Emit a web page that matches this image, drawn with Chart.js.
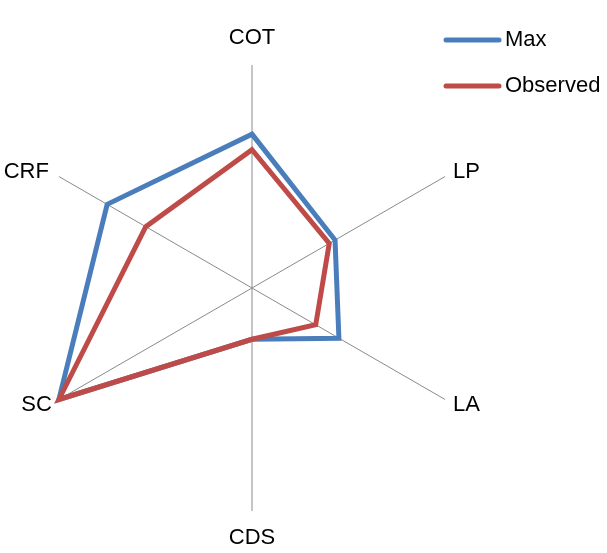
<!DOCTYPE html>
<html>
<head>
<meta charset="utf-8">
<script src="https://cdn.jsdelivr.net/npm/chart.js@4/dist/chart.umd.min.js"></script>
<style>
  html, body { margin: 0; padding: 0; background: #ffffff; }
  #wrap { width: 607px; height: 553px; position: relative; }
</style>
</head>
<body>
<div id="wrap"><canvas id="radar" width="607" height="553"></canvas></div>
<script>
// Axis categories, clockwise from the top
const categories = ['COT', 'LP', 'LA', 'CDS', 'SC', 'CRF'];
// Series values (scale 0 - 1)
const maxValues = [0.69, 0.43, 0.45, 0.23, 1.0, 0.75];
const observedValues = [0.62, 0.40, 0.33, 0.23, 1.0, 0.55];
const seriesNames = ['Max', 'Observed'];

const BLUE = '#4A7EBB';
const RED = '#BE4B48';
const FONT = '22px "Liberation Sans", Arial, sans-serif';

// Category labels placed just beyond each spoke's end
const axisLabels = {
  id: 'axisLabels',
  afterDraw(chart) {
    const scale = chart.scales.r;
    const ctx = chart.ctx;
    const R = scale.drawingArea;
    ctx.save();
    ctx.font = FONT;
    ctx.fillStyle = '#000000';
    ctx.textBaseline = 'middle';
    categories.forEach((label, i) => {
      const end = scale.getPointPosition(i, R);
      let x = end.x, y = end.y;
      const dx = end.x - scale.xCenter;
      const dy = end.y - scale.yCenter;
      if (Math.abs(dx) < 1) {
        ctx.textAlign = 'center';
        y += dy < 0 ? -27 : 27;
      } else if (dx > 0) {
        ctx.textAlign = 'left';
        x += 8;
        y += dy < 0 ? -5 : 5;
      } else {
        ctx.textAlign = 'right';
        x -= dy < 0 ? 10 : 7;
        y += dy < 0 ? -5 : 5;
      }
      ctx.fillText(label, x, y);
    });
    ctx.restore();
  }
};

// Legend at the top right: thick line sample followed by the series name
const sideLegend = {
  id: 'sideLegend',
  afterDraw(chart) {
    const ctx = chart.ctx;
    ctx.save();
    ctx.font = FONT;
    ctx.textAlign = 'left';
    ctx.textBaseline = 'middle';
    chart.data.datasets.forEach((ds, i) => {
      const y = 40 + i * 46;
      ctx.strokeStyle = ds.borderColor;
      ctx.lineWidth = 5;
      ctx.lineCap = 'round';
      ctx.beginPath();
      ctx.moveTo(446, y);
      ctx.lineTo(499, y);
      ctx.stroke();
      ctx.fillStyle = '#000000';
      ctx.fillText(ds.label, 505, y);
    });
    ctx.restore();
  }
};

new Chart(document.getElementById('radar'), {
  type: 'radar',
  data: {
    labels: categories,
    datasets: [
      {
        label: seriesNames[0],
        data: maxValues,
        borderColor: BLUE,
        backgroundColor: 'rgba(0,0,0,0)',
        borderWidth: 5,
        borderJoinStyle: 'miter',
        fill: false,
        pointRadius: 0,
        pointHoverRadius: 0,
        order: 1
      },
      {
        label: seriesNames[1],
        data: observedValues,
        borderColor: RED,
        backgroundColor: 'rgba(0,0,0,0)',
        borderWidth: 5,
        borderJoinStyle: 'miter',
        fill: false,
        pointRadius: 0,
        pointHoverRadius: 0,
        order: 0
      }
    ]
  },
  options: {
    responsive: false,
    animation: false,
    layout: { padding: { left: 29, right: 132, top: 65, bottom: 42 } },
    plugins: {
      legend: { display: false },
      tooltip: { enabled: false }
    },
    scales: {
      r: {
        min: 0,
        max: 1,
        ticks: { display: false },
        grid: { display: false },
        angleLines: { display: true, color: '#8a8a8a', lineWidth: 1 },
        pointLabels: { display: false }
      }
    }
  },
  plugins: [axisLabels, sideLegend]
});
</script>
</body>
</html>
